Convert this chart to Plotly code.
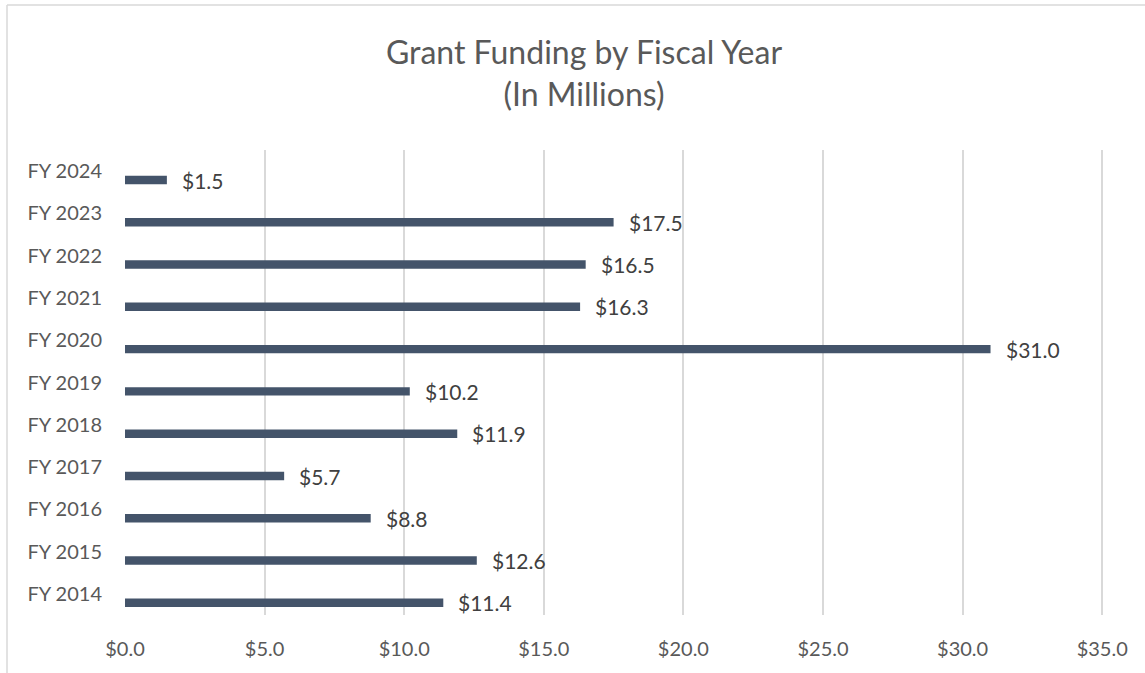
import plotly.graph_objects as go

years = ["FY 2014", "FY 2015", "FY 2016", "FY 2017", "FY 2018", "FY 2019",
         "FY 2020", "FY 2021", "FY 2022", "FY 2023", "FY 2024"]
funding = [11.4, 12.6, 8.8, 5.7, 11.9, 10.2, 31.0, 16.3, 16.5, 17.5, 1.5]
x_ticks = [0, 5, 10, 15, 20, 25, 30, 35]
x_tick_labels = ["$0.0", "$5.0", "$10.0", "$15.0", "$20.0", "$25.0", "$30.0", "$35.0"]

FONT = "Lato"
BAR = "#44546A"
GRID = "#D9D9D9"
TXT = "#595959"

fig = go.Figure()
fig.add_trace(go.Bar(
    y=years, x=funding, orientation="h",
    marker=dict(color=BAR, line=dict(width=0)),
    width=0.2, offset=-0.31,
    hoverinfo="skip",
))

for yv, xv in zip(years, funding):
    fig.add_annotation(
        x=xv, y=yv, xref="x", yref="y",
        text=f"${xv:.1f}", showarrow=False,
        xanchor="left", yanchor="middle",
        xshift=13, yshift=-9,
        font=dict(family=FONT, size=21, color="#404040"),
    )

L, R, T, B = 125, 40, 150, 58
W, H = 1145, 673
pw = W - L - R
ph = H - T - B

# chart border (left and top edges visible)
bx = (7 - L) / pw
by = (H - B - 5) / ph
fig.add_shape(type="line", xref="paper", yref="paper", x0=bx, x1=bx, y0=-0.5, y1=by,
              line=dict(color=GRID, width=1.5))
fig.add_shape(type="line", xref="paper", yref="paper", x0=bx, x1=1.2, y0=by, y1=by,
              line=dict(color=GRID, width=1.5))

fig.update_layout(
    width=W, height=H,
    margin=dict(l=L, r=R, t=T, b=B),
    paper_bgcolor="white", plot_bgcolor="white",
    showlegend=False,
    title=dict(
        text="Grant Funding by Fiscal Year<br>(In Millions)",
        x=(584 - L) / pw, xref="paper", xanchor="center",
        y=1 - 64 / H, yref="container", yanchor="top",
        font=dict(family=FONT, size=32, color=TXT),
    ),
    xaxis=dict(
        range=[0, 35.1], tickmode="array", tickvals=x_ticks, ticktext=x_tick_labels,
        showgrid=True, gridcolor=GRID, gridwidth=1.5,
        zeroline=False, showline=False, ticks="",
        tickfont=dict(family=FONT, size=20, color=TXT),
        ticklabelstandoff=20,
        fixedrange=True,
    ),
    yaxis=dict(
        type="category", categoryorder="array", categoryarray=years,
        range=[-0.5, len(years) - 0.5],
        showgrid=False, zeroline=False, showline=False, ticks="",
        tickfont=dict(family=FONT, size=20, color=TXT),
        ticklabelstandoff=22,
        fixedrange=True,
    ),
)

fig.write_html("out.html")
